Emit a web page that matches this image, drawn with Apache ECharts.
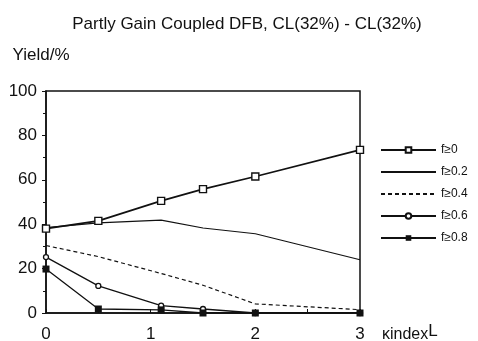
<!DOCTYPE html>
<html>
<head>
<meta charset="utf-8">
<script src="https://cdn.jsdelivr.net/npm/echarts@6/dist/echarts.min.js"></script>
<style>
  html, body { margin: 0; padding: 0; background: #fff; }
  #chart { width: 478px; height: 341px; }
</style>
</head>
<body>
<div id="chart"></div>
<script>
// 产量 vs κL，五条 f 阈值曲线
const KL = [0, 0.5, 1.1, 1.5, 2, 3];
const F0 = [38, 41.5, 50.5, 55.8, 61.5, 73.5];
const F02 = [38.5, 40.6, 41.8, 38.3, 35.7, 24];
const F04 = [30.4, 25.4, 17.8, 12.5, 4.1, 1.5];
const F06 = [25.2, 12.2, 3.3, 1.8, 0, 0];
const F08 = [19.8, 1.8, 1.4, 0, 0, 0];
const NAMES = ['f≥0', 'f≥0.2', 'f≥0.4', 'f≥0.6', 'f≥0.8'];

const FONT = '"Liberation Sans", Arial, sans-serif';
const INK = '#111';

function pts(ys) {
  return KL.map((x, i) => [x, ys[i]]);
}

// 无标记的两条线，图例里也不画圆点
const legendData = NAMES.map((n, i) => (i === 1 || i === 2)
  ? { name: n, itemStyle: { opacity: 0 } }
  : { name: n });

const chart = echarts.init(document.getElementById('chart'), null, { renderer: 'canvas' });

chart.setOption({
  animation: false,
  textStyle: { fontFamily: FONT, color: INK },
  title: {
    text: 'Partly Gain Coupled DFB, CL(32%) - CL(32%)',
    left: 242, top: 11, textAlign: 'center',
    textStyle: { fontFamily: FONT, fontSize: 17, fontWeight: 'normal', color: INK },
  },
  legend: {
    orient: 'vertical', left: 375, top: 139,
    itemWidth: 55, itemHeight: 7, itemGap: 10,
    textStyle: { fontFamily: FONT, fontSize: 12, color: INK },
    data: legendData,
  },
  grid: {
    left: 46, right: 118, top: 91, bottom: 28,
    outerBoundsMode: 'none', containLabel: false,
    show: true, borderColor: INK, borderWidth: 1.5, backgroundColor: 'transparent',
  },
  xAxis: {
    type: 'value', min: 0, max: 3, interval: 0.5,
    name: '{a|κindex}{b|L}',
    nameLocation: 'end', nameGap: 22,
    nameTextStyle: {
      padding: [43, 0, 0, 0],
      rich: {
        a: { fontFamily: FONT, fontSize: 16, color: INK },
        b: { fontFamily: FONT, fontSize: 17, color: INK, padding: [0, 0, 7, 0] },
      },
    },
    axisLine: { lineStyle: { color: INK, width: 1.5 } },
    axisTick: { inside: true, length: 4, lineStyle: { color: INK } },
    axisLabel: {
      fontFamily: FONT, fontSize: 17, color: INK, margin: 13,
      formatter: (v) => (Number.isInteger(v) ? String(v) : ''),
    },
    splitLine: { show: false },
  },
  yAxis: {
    type: 'value', min: 0, max: 100, interval: 20,
    name: 'Yield/%', nameLocation: 'end', nameGap: 27,
    nameTextStyle: { fontFamily: FONT, fontSize: 17, color: INK, align: 'center', padding: [0, 10, 0, 0] },
    axisLine: { show: true, lineStyle: { color: INK, width: 1.5 } },
    axisTick: { show: true, length: 4, lineStyle: { color: INK } },
    minorTick: { show: true, splitNumber: 2, length: 3, lineStyle: { color: INK } },
    axisLabel: { fontFamily: FONT, fontSize: 17, color: INK, margin: 9 },
    splitLine: { show: false },
  },
  series: [
    {
      name: NAMES[0], type: 'line', data: pts(F0),
      symbol: 'rect', symbolSize: 7,
      lineStyle: { color: INK, width: 1.7 },
      itemStyle: { color: '#fff', borderColor: INK, borderWidth: 1.4 },
    },
    {
      name: NAMES[1], type: 'line', data: pts(F02), symbol: 'none',
      lineStyle: { color: INK, width: 1.2 },
      itemStyle: { color: INK },
    },
    {
      name: NAMES[2], type: 'line', data: pts(F04), symbol: 'none',
      lineStyle: { color: INK, width: 1.2, type: [4, 3] },
      itemStyle: { color: INK },
    },
    {
      name: NAMES[3], type: 'line', data: pts(F06),
      symbol: 'circle', symbolSize: 5,
      lineStyle: { color: INK, width: 1.3 },
      itemStyle: { color: '#fff', borderColor: INK, borderWidth: 1.3 },
    },
    {
      name: NAMES[4], type: 'line', data: pts(F08),
      symbol: 'rect', symbolSize: 7,
      lineStyle: { color: INK, width: 1.3 },
      itemStyle: { color: INK },
    },
  ],
});
</script>
</body>
</html>
